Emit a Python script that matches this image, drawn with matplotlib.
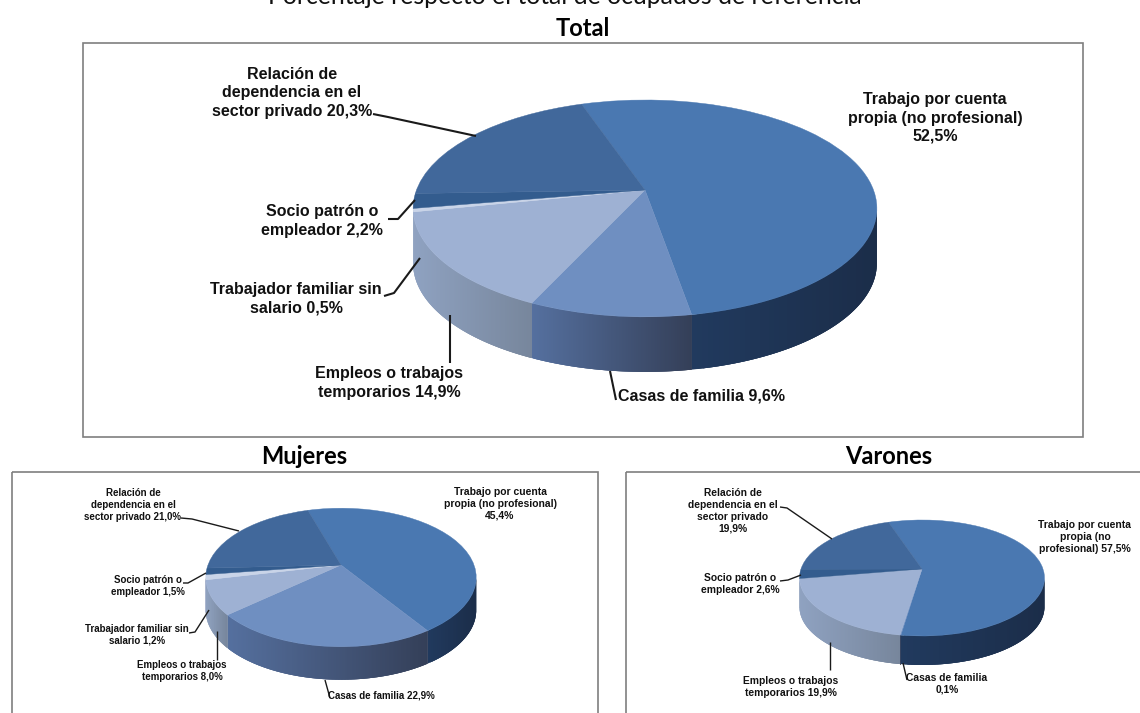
import numpy as np
import matplotlib
matplotlib.use("Agg")
import matplotlib.pyplot as plt
from matplotlib.collections import PolyCollection
from matplotlib.colors import to_rgb
from matplotlib.patches import Rectangle
from matplotlib.transforms import Transform

# values, in the order the slices go round (clockwise)
categories = ["Trabajo por cuenta propia", "Casas de familia", "Empleos o trabajos temporarios",
              "Trabajador familiar sin salario", "Socio patron o empleador", "Relacion de dependencia"]
total_values = [52.5, 9.6, 14.9, 0.5, 2.2, 20.3]
mujeres_values = [45.4, 22.9, 8.0, 1.2, 1.5, 21.0]
varones_values = [57.5, 0.1, 19.9, 0.0, 2.6, 19.9]

top_colors = ["#4A78B1", "#6F8FC1", "#9EB1D3", "#C9D4E8", "#335C8E", "#41689B"]
# left and right colour of the side wall of each slice
wall_left = ["#213A5E", "#55709F", "#8FA2C1", "#A9B8D0", "#2A4A75", "#2A4A75"]
wall_right = ["#1B2D49", "#343F58", "#77869C", "#8FA2C1", "#2A4A75", "#2A4A75"]

title_font = "Lato"
label_font = "Liberation Sans"


class TiltedPie(Transform):
    # unit circle of the pie -> pixels, with the perspective of a tilted disc
    input_dims = 2
    output_dims = 2
    has_inverse = False

    def __init__(self, cx, cy, a, b, k):
        super().__init__()
        self.cx, self.cy, self.a, self.b, self.k = cx, cy, a, b, k

    def transform_non_affine(self, values):
        u, v = values[:, 0], values[:, 1]
        s = 1 + self.k * v
        return np.column_stack([self.cx + self.b * u / s, self.cy - self.a * v / s])


def draw_pie(ax, values, startangle, cx, cy, a, b, k, depth):
    proj = TiltedPie(cx, cy, a, b, k)
    wedges, _ = ax.pie(values, startangle=startangle, counterclock=False, colors=top_colors)
    for i, w in enumerate(wedges):
        w.set_transform(proj + ax.transData)
        w.set_zorder(3)
        w.set_clip_on(False)
        w.set_edgecolor(top_colors[i])
        w.set_linewidth(0.3)
        # side wall, only the part between the two vertical tangents can be seen
        th = np.radians(np.linspace(w.theta1, w.theta2, 160))
        th = th[np.sin(th) <= -k]
        if len(th) < 2:
            continue
        rim = proj.transform_non_affine(np.column_stack([np.cos(th), np.sin(th)]))
        x0, x1 = rim[:, 0].min(), rim[:, 0].max()
        polys, cols = [], []
        for j in range(len(th) - 1):
            # each strip runs on under the next one, so no seams show
            p, q = rim[j], rim[min(j + 3, len(th) - 1)]
            polys.append([p, q, q + [0, depth], p + [0, depth]])
            t = np.clip((rim[j, 0] - x0) / max(x1 - x0, 1), 0, 1)
            cols.append((1 - t) * np.array(to_rgb(wall_left[i])) + t * np.array(to_rgb(wall_right[i])))
        ax.add_collection(PolyCollection(polys, facecolors=cols, edgecolors="none", linewidths=0, zorder=2))


def label(ax, x, y, s, size):
    spacing = 1.29 if size > 10 else 1.22
    ax.text(x, y, s, ha="center", va="center", fontsize=size, fontweight="bold", family=label_font,
            color="#111111", linespacing=spacing, zorder=5)


def leader(ax, xs, ys, lw):
    ax.plot(xs, ys, color="#1A1A1A", lw=lw, zorder=4, solid_capstyle="butt")


fig = plt.figure(figsize=(11.4, 7.13), dpi=100)
ax = fig.add_axes([0, 0, 1, 1])

draw_pie(ax, total_values, 108.8, 645, 190, 105.3, 228.5, 0.17, 55)
draw_pie(ax, mujeres_values, 107, 341, 565, 67, 133, 0.18, 33)
draw_pie(ax, varones_values, 108.5, 922, 569, 56.6, 121, 0.155, 29)

# pixel coordinates for everything that is not a mark
ax.set_xlim(0, 1140)
ax.set_ylim(713, 0)
ax.set_aspect("auto")

for x, y, w, h in [(82.5, 42.5, 1000, 394), (11.5, 471.5, 586, 260), (625.5, 471.5, 530, 260)]:
    ax.add_patch(Rectangle((x, y), w, h, fill=False, edgecolor="#7F7F7F", lw=1.2, zorder=1))

ax.text(565, 3.5, "Porcentaje respecto el total de ocupados de referencia", ha="center", va="baseline",
        fontsize=17.8, family=title_font, color="#111111")
ax.text(583, 28, "Total", ha="center", va="center", fontsize=17, fontweight="bold", family=title_font, color="black")
ax.text(304, 456, "Mujeres", ha="center", va="center", fontsize=17, fontweight="bold", family=title_font, color="black")
ax.text(889, 456, "Varones", ha="center", va="center", fontsize=17, fontweight="bold", family=title_font, color="black")

# Total
label(ax, 292, 93, "Relación de\ndependencia en el\nsector privado 20,3%", 11.5)
label(ax, 935, 118, "Trabajo por cuenta\npropia (no profesional)\n52,5%", 11.5)
label(ax, 322, 221, "Socio patrón o\nempleador 2,2%", 11.5)
label(ax, 296, 299, "Trabajador familiar sin\nsalario 0,5%", 11.5)
label(ax, 389, 383, "Empleos o trabajos\ntemporarios 14,9%", 11.5)
label(ax, 701, 396, "Casas de familia 9,6%", 11.5)
leader(ax, [373, 388, 476], [114, 117, 136], 1.5)
leader(ax, [388, 398, 415], [219, 219, 200], 1.5)
leader(ax, [384, 394, 420], [296, 293, 258], 1.5)
leader(ax, [450, 450], [363, 315], 1.5)
leader(ax, [616, 610], [400, 371], 1.5)

# Mujeres
label(ax, 133, 505, "Relación de\ndependencia en el\nsector privado 21,0%", 7)
label(ax, 500, 504, "Trabajo por cuenta\npropia (no profesional)\n45,4%", 7.5)
label(ax, 148, 586, "Socio patrón o\nempleador 1,5%", 7)
label(ax, 137, 635, "Trabajador familiar sin\nsalario 1,2%", 7)
label(ax, 182, 671, "Empleos o trabajos\ntemporarios 8,0%", 7)
label(ax, 381, 695, "Casas de familia 22,9%", 7)
leader(ax, [181, 192, 239], [518, 519, 531], 1)
leader(ax, [183, 188, 206], [583, 583, 573], 1)
leader(ax, [189, 195, 209], [633, 632, 610], 1)
leader(ax, [217, 217], [660, 631], 1)
leader(ax, [330, 325], [698, 680], 1)

# Varones
label(ax, 733, 511, "Relación de\ndependencia en el\nsector privado\n19,9%", 7.4)
label(ax, 740, 584, "Socio patrón o\nempleador 2,6%", 7.4)
label(ax, 791, 687, "Empleos o trabajos\ntemporarios 19,9%", 7.4)
label(ax, 947, 684, "Casas de familia\n0,1%", 7.4)
label(ax, 1085, 537, "Trabajo por cuenta\npropia (no\nprofesional) 57,5%", 7.5)
leader(ax, [780, 787, 832], [507, 508, 539], 1)
leader(ax, [780, 788, 801], [581, 580, 575], 1)
leader(ax, [830, 830], [670, 642], 1)
leader(ax, [907, 903], [680, 663], 1)

fig.savefig("out.png", dpi=100)
